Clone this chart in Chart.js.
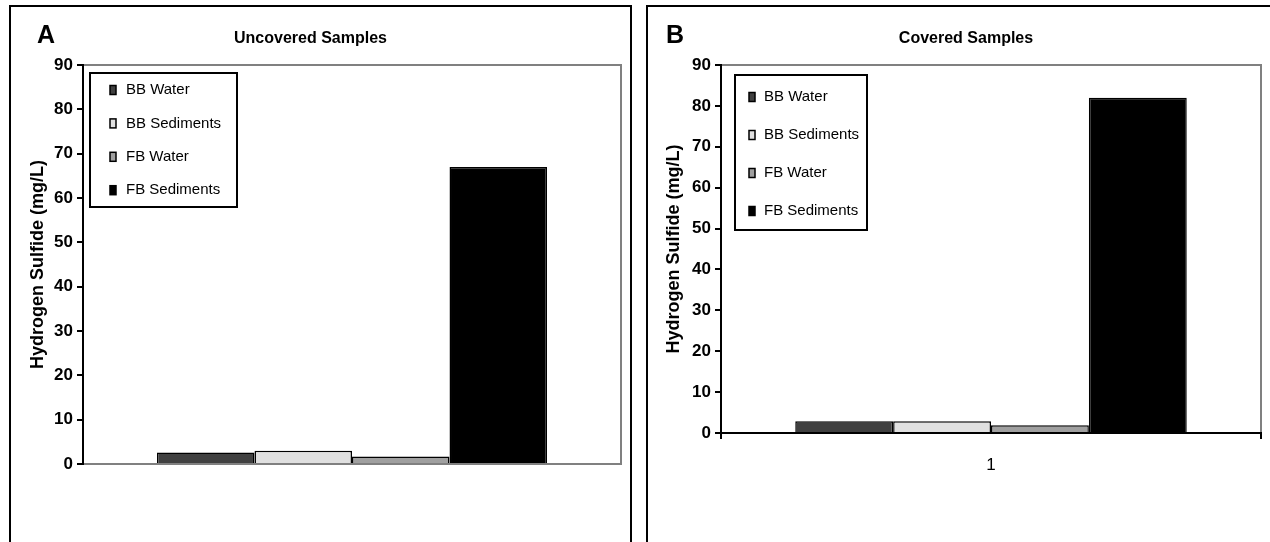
<!DOCTYPE html>
<html>
<head>
<meta charset="utf-8">
<script src="https://cdn.jsdelivr.net/npm/chart.js@4/dist/chart.umd.min.js"></script>
<style>
    body { margin: 0; background: #fff; overflow: hidden; font-family: "Liberation Sans", Arial, sans-serif; }
    canvas { position: absolute; top: 0; }
    .frame { position: absolute; top: 5px; height: 560px; border: 2px solid #000; pointer-events: none; }
    .tag { position: absolute; top: 22px; font: bold 25px/25px "Liberation Sans", Arial, sans-serif; }
</style>
</head>
<body>
<canvas id="uncoveredChart" width="640" height="542" style="left:0"></canvas>
<canvas id="coveredChart" width="621" height="542" style="left:649px"></canvas>
<div class="frame" style="left:9px; width:619px"></div>
<div class="frame" style="left:646px; width:640px"></div>
<div class="tag" style="left:37px">A</div>
<div class="tag" style="left:666px">B</div>
<script>
const categories = ["1"];
const seriesNames = ["BB Water", "BB Sediments", "FB Water", "FB Sediments"];
const seriesColors = ["#404040", "#e0e0e0", "#a0a0a0", "#000000"];
const uncoveredValues = [2.6, 3.0, 1.7, 67];
const coveredValues = [2.9, 2.9, 1.9, 82];
const yMin = 0;
const yMax = 90;
const yStep = 10;

const FONT = "\"Liberation Sans\", Arial, sans-serif";

// grey plot-area frame, drawn under the axes
const plotFrame = {
    id: "plotFrame",
    beforeDraw: function (chart) {
        const a = chart.chartArea;
        const ctx = chart.ctx;
        ctx.save();
        ctx.strokeStyle = "#808080";
        ctx.lineWidth = 2;
        ctx.strokeRect(a.left, a.top, a.right - a.left, a.bottom - a.top);
        ctx.restore();
    }
};

// boxed legend sitting inside the plot area, like the Excel one
const legendBox = {
    id: "legendBox",
    afterDraw: function (chart, args, o) {
        const ctx = chart.ctx;
        const x = chart.chartArea.left + o.dx;
        const y = chart.chartArea.top + o.dy;
        ctx.save();
        ctx.fillStyle = "#fff";
        ctx.fillRect(x, y, o.w, o.h);
        ctx.lineWidth = 2;
        ctx.strokeStyle = "#000";
        ctx.strokeRect(x, y, o.w, o.h);
        ctx.font = "15px " + FONT;
        ctx.textBaseline = "middle";
        chart.data.datasets.forEach(function (ds, i) {
            const cy = y + o.first + i * o.gap;
            ctx.fillStyle = ds.backgroundColor;
            ctx.fillRect(x + o.swatchX, cy - 4.5, 6, 9);
            ctx.lineWidth = 1.5;
            ctx.strokeRect(x + o.swatchX, cy - 4.5, 6, 9);
            ctx.fillStyle = "#000";
            ctx.fillText(ds.label, x + o.textX, cy);
        });
        ctx.restore();
    }
};

function makeChart(id, title, values, cfg) {
    return new Chart(document.getElementById(id), {
        type: "bar",
        data: {
            labels: categories,
            datasets: seriesNames.map(function (name, i) {
                return {
                    label: name,
                    data: [values[i]],
                    backgroundColor: seriesColors[i],
                    borderColor: "#000",
                    borderWidth: 1.5,
                    borderSkipped: "bottom"
                };
            })
        },
        options: {
            responsive: false,
            animation: false,
            layout: { padding: { left: cfg.padLeft, right: cfg.padRight, top: 0, bottom: 0 } },
            datasets: { bar: { categoryPercentage: 0.725, barPercentage: 1 } },
            plugins: {
                legend: { display: false },
                tooltip: { enabled: false },
                title: {
                    display: true,
                    text: title,
                    color: "#000",
                    font: { family: FONT, size: 16, weight: "bold", lineHeight: 1.2 },
                    padding: { top: 29, bottom: 16.8 }
                },
                legendBox: cfg.legend
            },
            scales: {
                x: {
                    afterFit: function (s) { s.height = cfg.xHeight; },
                    ticks: {
                        display: cfg.showX,
                        color: "#000",
                        padding: 16,
                        font: { family: FONT, size: 17 }
                    },
                    grid: {
                        drawOnChartArea: false,
                        drawTicks: cfg.showX,
                        tickLength: 6,
                        color: "#000",
                        lineWidth: 2
                    },
                    border: { color: cfg.showX ? "#000" : "#808080", width: 2 }
                },
                y: {
                    min: yMin,
                    max: yMax,
                    afterFit: function (s) { s.width = cfg.yWidth; },
                    ticks: {
                        stepSize: yStep,
                        color: "#000",
                        padding: 4,
                        font: { family: FONT, size: 17, weight: "bold" }
                    },
                    grid: {
                        drawOnChartArea: false,
                        tickLength: 6,
                        color: "#000",
                        lineWidth: 2
                    },
                    border: { color: "#000", width: 2 },
                    title: {
                        display: true,
                        text: "Hydrogen Sulfide (mg/L)",
                        color: "#000",
                        font: { family: FONT, size: 18, weight: "bold", lineHeight: 1.2 },
                        padding: { top: cfg.yTitlePad, bottom: 0 }
                    }
                }
            }
        },
        plugins: [plotFrame, legendBox]
    });
}

document.addEventListener("DOMContentLoaded", function () {
    // A: uncovered
    makeChart("uncoveredChart", "Uncovered Samples", uncoveredValues, {
        padLeft: 0, padRight: 19, yWidth: 83, xHeight: 78, showX: false, yTitlePad: 27.2,
        legend: { dx: 7, dy: 8, w: 147, h: 134, first: 17, gap: 33.4, swatchX: 20, textX: 36 }
    });

    // B: covered
    makeChart("coveredChart", "Covered Samples", coveredValues, {
        padLeft: 22, padRight: 9, yWidth: 50, xHeight: 109, showX: true, yTitlePad: -7.3,
        legend: { dx: 14, dy: 10, w: 132, h: 155, first: 22, gap: 38, swatchX: 14, textX: 29 }
    });
});
</script>
</body>
</html>
